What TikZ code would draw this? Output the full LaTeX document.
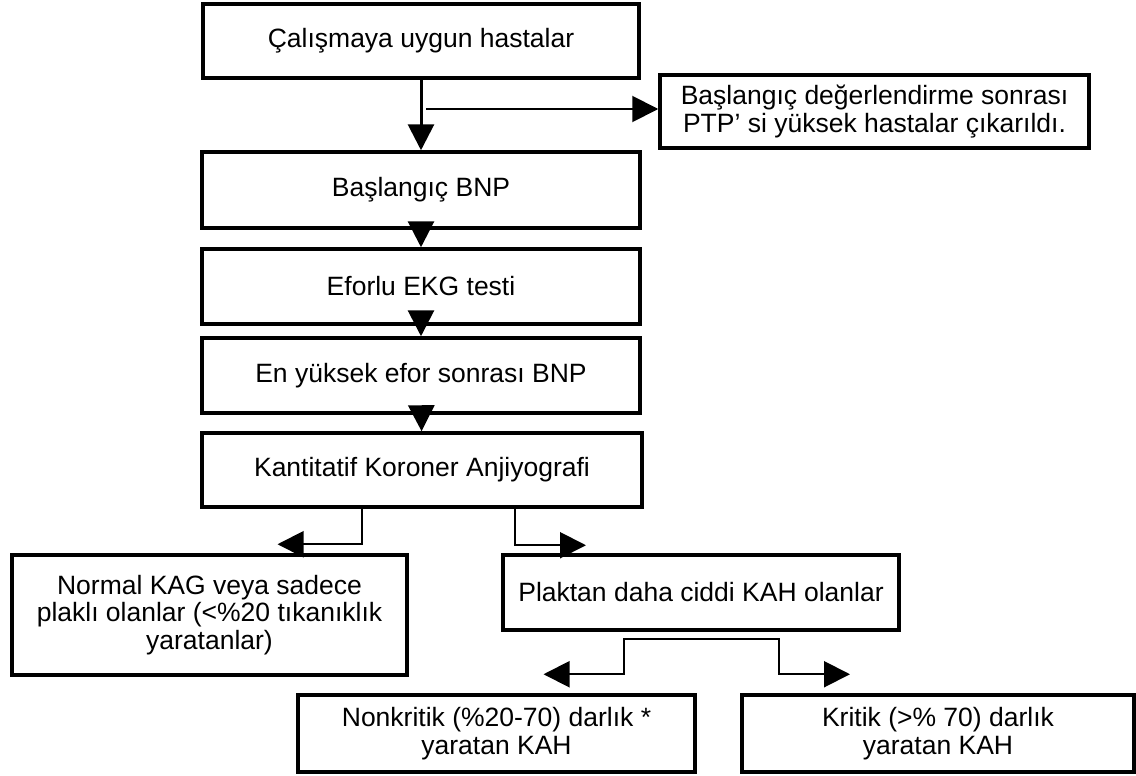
\documentclass[tikz,border=0pt]{standalone}
\usepackage{fontspec}
\setmainfont{Liberation Sans}
\usetikzlibrary{arrows.meta}

\begin{document}
\begin{tikzpicture}[x=1pt, y=-1pt,
  box/.style={draw, line width=3.5pt, align=center, inner sep=0pt, font=\fontsize{26.5}{27.8}\selectfont},
  mainarrow/.style={-{Triangle[length=26pt,width=26pt]}, line width=3pt},
  thinarrow/.style={-{Triangle[length=26pt,width=26pt]}, line width=2pt}]
\useasboundingbox (0,0) rectangle (1136,776);
\node[box, minimum width=436pt, minimum height=74pt] (hasta) at (421,41) {Çalışmaya uygun hastalar};
\node[box, minimum width=429pt, minimum height=73pt] (cikan) at (874.5,111.5) {Başlangıç değerlendirme sonrası\\PTP’ si yüksek hastalar çıkarıldı.};
\node[box, minimum width=438pt, minimum height=76pt] (bnp) at (421,190) {Başlangıç BNP};
\node[box, minimum width=438pt, minimum height=75pt] (efor) at (421,286.5) {Eforlu EKG testi};
\node[box, minimum width=438pt, minimum height=75pt] (pik) at (421,375.5) {En yüksek efor sonrası BNP};
\node[box, minimum width=440pt, minimum height=74pt] (kag) at (422,470) {Kantitatif Koroner Anjiyografi};
\node[box, minimum width=395pt, minimum height=120pt] (normal) at (209.5,615) {Normal KAG veya sadece\\plaklı olanlar (<\%20 tıkanıklık\\yaratanlar)};
\node[box, minimum width=396pt, minimum height=75pt] (plak) at (701,592.5) {Plaktan daha ciddi KAH olanlar};
\node[box, minimum width=397pt, minimum height=77pt] (nonk) at (496.5,733.5) {Nonkritik (\%20-70) darlık *\\yaratan KAH};
\node[box, minimum width=392pt, minimum height=77pt] (krit) at (938,733.5) {Kritik (>\% 70) darlık\\yaratan KAH};
\draw[mainarrow] (hasta) -- (bnp);
\coordinate (split) at (426,109);
\draw[thinarrow] (split) -- (split -| cikan.west);
\draw[mainarrow] (bnp) -- (efor);
\draw[mainarrow] (efor) -- (pik);
\draw[mainarrow] (pik) -- (kag);
\draw[thinarrow] ([xshift=-60pt]kag.south) |- ([xshift=68pt,yshift=9pt]normal.north);
\draw[thinarrow] ([xshift=93pt]kag.south) |- ([xshift=-115pt,yshift=8pt]plak.north);
\coordinate (fork) at ([yshift=-7pt]plak.south); % iki kola ayrilir
\draw[thinarrow] (fork) -- ++(-77,0) |- ([xshift=47pt,yshift=19pt]nonk.north);
\draw[thinarrow] (fork) -- ++(78,0) |- ([xshift=-88pt,yshift=19pt]krit.north);
\end{tikzpicture}
\end{document}
